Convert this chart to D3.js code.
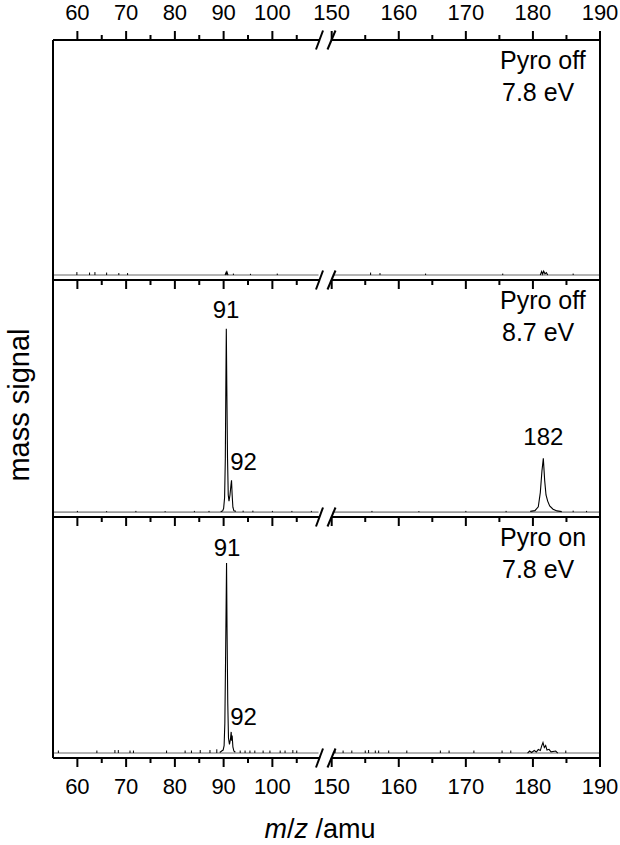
<!DOCTYPE html>
<html><head><meta charset="utf-8">
<script src="https://cdn.jsdelivr.net/npm/d3@7"></script>
<style>body{margin:0;background:#fff}svg{display:block}text{font-family:"Liberation Sans",Arial,sans-serif;fill:#000}</style>
</head><body><svg id="c" width="620" height="845"></svg>
<script>
// ---- data ----
const panelLabels = [["Pyro off","7.8 eV"],["Pyro off","8.7 eV"],["Pyro on","7.8 eV"]];
const leftTicks = [60,65,70,75,80,85,90,95,100,105];
const rightTicks = [150,155,160,165,170,175,180,185,190];
const tickLabels = [60,70,80,90,100,150,160,170,180,190];

// peak traces [m/z, signal]
const p2peak91 = [[89.4,0.02],[89.8,0.05],[90.0,0.15],[90.2,0.6],[90.35,2.2],[90.45,5.0],[90.55,7.5],[90.65,5.2],[90.8,2.2],[90.95,0.7],[91.1,0.45],[91.3,0.7],[91.5,1.1],[91.62,1.3],[91.75,0.7],[91.9,0.2],[92.1,0.06],[92.5,0.03]];
const p2peak182 = [[179.6,0.03],[180.3,0.06],[180.8,0.22],[181.1,0.8],[181.35,1.7],[181.55,2.2],[181.75,1.3],[181.95,0.7],[182.2,0.45],[182.5,0.25],[183.0,0.12],[183.6,0.05],[184.3,0.02]];
const p3peak91 = [[89.2,0.02],[89.6,0.08],[89.9,0.12],[90.1,0.3],[90.25,1.2],[90.4,3.8],[90.6,7.65],[90.7,5.0],[90.85,2.0],[91.0,0.6],[91.2,0.35],[91.4,0.55],[91.55,0.85],[91.65,0.5],[91.75,0.7],[91.9,0.25],[92.1,0.08],[92.4,0.03]];
const p1bumps = [[90.3,0.0],[90.5,0.1],[90.6,0.02],[90.7,0.12],[90.9,0.0]];
const p1bump182 = [[181.1,0.0],[181.3,0.14],[181.45,0.04],[181.6,0.16],[181.8,0.05],[182.0,0.1],[182.2,0.0]];
const p3bump182 = [[179.2,0.0],[179.5,0.08],[179.8,0.02],[180.2,0.1],[180.5,0.04],[180.8,0.14],[181.1,0.1],[181.3,0.28],[181.5,0.42],[181.7,0.22],[181.9,0.3],[182.1,0.12],[182.4,0.15],[182.7,0.05],[183.4,0.08],[183.7,0.0]];

// noise spikes [m/z, signal]
const noise1 = [[59.9,0.12],[62.5,0.1],[63.6,0.12],[66,0.1],[68.5,0.08],[70.3,0.08],[92.0,0.06],[95.5,0.05],[101,0.06],[155.8,0.1],[157.2,0.08],[164,0.06],[175.5,0.06],[186,0.06]];
const noise2 = [[60,0.05],[66,0.04],[72,0.05],[78,0.04],[84,0.05],[87,0.05],[94,0.06],[96,0.06],[100,0.05],[104,0.05],[108,0.05],[156,0.05],[163,0.04],[170,0.05],[176,0.05],[186,0.06],[188,0.05]];
const noise3 = [[56.1,0.1],[64,0.1],[67.7,0.12],[68.4,0.12],[70.8,0.1],[71.5,0.1],[78.3,0.1],[82.1,0.1],[83.4,0.1],[85.2,0.12],[87.2,0.12],[88.6,0.15],[93.4,0.1],[94.4,0.1],[95.4,0.1],[96.4,0.1],[98.1,0.1],[99.5,0.1],[101.6,0.1],[102.6,0.1],[104.2,0.12],[105,0.1],[150.5,0.1],[151.7,0.1],[153,0.1],[155,0.1],[155.5,0.12],[156.5,0.1],[157,0.1],[158.5,0.1],[161.2,0.1],[166.2,0.1],[167.5,0.1],[171.2,0.1],[175.4,0.1],[176.7,0.1],[184.9,0.1]];

const panelTraces = [[p1bumps,p1bump182],[p2peak91,p2peak182],[p3peak91,p3bump182]];
const panelNoise = [noise1,noise2,noise3];
const peakLabels = [[],[[90.5,"91",318],[91.55,"92",470,"start"],[181.55,"182",445]],[[90.7,"91",556],[91.55,"92",725,"start"]]];

// ---- layout ----
const svg = d3.select("#c");
const L = 53, R = 600, breakL = 319.5, breakR = 331.7;
const edges = [40, 280, 517, 758];
const xl = d3.scaleLinear().domain([55, 55 + (breakL - L) / 4.875]).range([L, breakL]);
const xr = d3.scaleLinear().domain([150, 190]).range([breakR, R]);
const xs = v => v < 130 ? xl(v) : xr(v);

for (let i = 0; i < 3; i++) {
  const top = edges[i], bot = edges[i+1];
  const y = d3.scaleLinear().domain([-0.2, 9.5]).range([bot, top]);
  const g = svg.append("g");
  // gray baseline
  [[xl, 55, xl.domain()[1]], [xr, 150, 190]].forEach(([sc, a, b]) => {
    g.append("line").attr("x1", sc(a) + 1).attr("x2", sc(b) - 1).attr("y1", y(0)).attr("y2", y(0))
      .attr("stroke", "#9a9a9a").attr("stroke-width", 1.6);
  });
  // noise spikes
  g.selectAll("line.n").data(panelNoise[i]).join("line").attr("class","n")
    .attr("x1", d => xs(d[0])).attr("x2", d => xs(d[0]))
    .attr("y1", y(0)).attr("y2", d => y(d[1]))
    .attr("stroke", "#000").attr("stroke-width", 1);
  // traces
  const line = d3.line().x(d => xs(d[0])).y(d => y(d[1]));
  panelTraces[i].forEach(tr => {
    g.append("path").attr("d", line(tr)).attr("fill", "none").attr("stroke", "#000").attr("stroke-width", 1.1);
  });
  // peak labels
  peakLabels[i].forEach(p => {
    g.append("text").attr("x", p[3] === "start" ? xs(p[0]) - 1 : xs(p[0])).attr("y", p[2])
      .attr("text-anchor", p[3] || "middle").attr("font-size", 24).text(p[1]);
  });
  // panel label
  g.append("text").attr("x", 500).attr("y", top + 29).attr("font-size", 25).text(panelLabels[i][0]);
  g.append("text").attr("x", 502).attr("y", top + 61).attr("font-size", 25).text(panelLabels[i][1]);
}

// ---- axes ----
const ax = svg.append("g");
const stroke = "#000";
ax.append("line").attr("x1", L).attr("x2", L).attr("y1", edges[0]).attr("y2", edges[3]).attr("stroke", stroke).attr("stroke-width", 2);
ax.append("line").attr("x1", R).attr("x2", R).attr("y1", edges[0] - 9).attr("y2", edges[3] + 9).attr("stroke", stroke).attr("stroke-width", 2);
edges.forEach((ey, k) => {
  const dir = k === 0 ? -1 : 1;
  ax.append("line").attr("x1", L).attr("x2", breakL).attr("y1", ey).attr("y2", ey).attr("stroke", stroke).attr("stroke-width", 2);
  ax.append("line").attr("x1", breakR).attr("x2", R).attr("y1", ey).attr("y2", ey).attr("stroke", stroke).attr("stroke-width", 2);
  [[316, 323], [327.5, 335.5]].forEach(([a, b]) => {
    ax.append("line").attr("x1", a).attr("y1", ey + 9.5).attr("x2", b).attr("y2", ey - 9.5)
      .attr("stroke", stroke).attr("stroke-width", 2);
  });
  const ticks = leftTicks.map(v => [xl(v), v]).concat(rightTicks.map(v => [xr(v), v]));
  ticks.forEach(([px, v]) => {
    const len = v % 10 === 0 ? 9 : 5;
    ax.append("line").attr("x1", px).attr("x2", px).attr("y1", ey).attr("y2", ey + dir * len)
      .attr("stroke", stroke).attr("stroke-width", 2);
  });
  if (k === 0 || k === 3) {
    ax.selectAll(null).data(tickLabels).join("text")
      .attr("x", v => xs(v)).attr("y", k === 0 ? 20 : 794)
      .attr("text-anchor", "middle").attr("font-size", 22).text(v => v);
  }
});

// titles
const xt = svg.append("text").attr("x", 320).attr("y", 838).attr("text-anchor", "middle").attr("font-size", 27);
xt.append("tspan").attr("font-style", "italic").text("m");
xt.append("tspan").text("/");
xt.append("tspan").attr("font-style", "italic").text("z");
xt.append("tspan").text(" /amu");
svg.append("text").attr("transform", "translate(29,405) rotate(-90)").attr("text-anchor", "middle")
  .attr("font-size", 29).text("mass signal");
</script></body></html>
